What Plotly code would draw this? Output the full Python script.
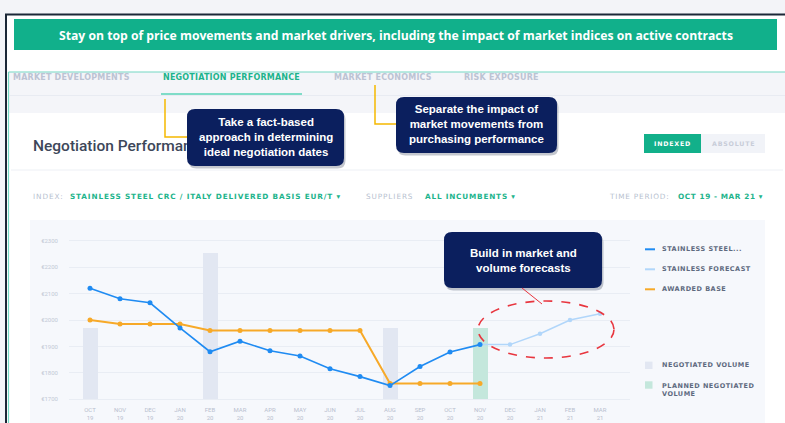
import plotly.graph_objects as go

# ---------------- data ----------------
months = ["OCT 19", "NOV 19", "DEC 19", "JAN 20", "FEB 20", "MAR 20", "APR 20", "MAY 20",
          "JUN 20", "JUL 20", "AUG 20", "SEP 20", "OCT 20", "NOV 20", "DEC 20", "JAN 21",
          "FEB 21", "MAR 21"]
steel_months = months[:14]
steel_values = [2120, 2080, 2065, 1970, 1880, 1920, 1884, 1864, 1816, 1786, 1752, 1824, 1879, 1907]
forecast_months = ["NOV 20", "DEC 20", "JAN 21", "FEB 21", "MAR 21"]
forecast_values = [1907, 1907, 1948, 2000, 2024]
awarded_months = months[:14]
awarded_values = [2000, 1985, 1985, 1985, 1960, 1960, 1960, 1960, 1960, 1960, 1760, 1760, 1760, 1760]
negotiated_months = ["OCT 19", "FEB 20", "AUG 20"]
negotiated_volume = [268, 553, 268]
planned_months = ["NOV 20"]
planned_volume = [268]
y_ticks = [1700, 1800, 1900, 2000, 2100, 2200, 2300]
y_tick_labels = ["€1700", "€1800", "€1900", "€2000", "€2100", "€2200", "€2300"]
legend_labels = ["STAINLESS STEEL...", "STAINLESS FORECAST", "AWARDED BASE",
                 "NEGOTIATED VOLUME", "PLANNED NEGOTIATED<br>VOLUME"]
tabs = ["MARKET DEVELOPMENTS", "NEGOTIATION PERFORMANCE", "MARKET ECONOMICS", "RISK EXPOSURE"]
banner_text = ("Stay on top of price movements and market drivers, including the impact of "
               "market indices on active contracts")
callout_1 = ["Take a fact-based", "approach in determining", "ideal negotiation dates"]
callout_2 = ["Separate the impact of", "market movements from", "purchasing performance"]
callout_3 = ["Build in market and", "volume forecasts"]

# ---------------- layout geometry (pixels) ----------------
W, H = 785, 423
L, R, T, B = 69, 630, 238, 402

def px(x):
    return (x - L) / (R - L)

def py(y):
    return (B - y) / (B - T)

BLUE = "#1f8bf2"
LBLUE = "#b1d6fa"
ORANGE = "#f7a928"
GREEN = "#1db48c"
GRAYTXT = "#b7bfcf"
NAVY = "#0b1f5e"
UI = "DejaVu Sans"

def spaced(text, ls):
    return f'<span style="letter-spacing:{ls}px">{text}</span>'

fig = go.Figure()

fig.add_trace(go.Bar(x=negotiated_months, y=negotiated_volume, base=1700, width=0.5,
                     marker=dict(color="#e2e7f2", line=dict(width=0)), showlegend=False))
fig.add_trace(go.Bar(x=planned_months, y=planned_volume, base=1700, width=0.5,
                     marker=dict(color="#c4e7dc", line=dict(width=0)), showlegend=False))
fig.add_trace(go.Scatter(x=forecast_months, y=forecast_values, mode="lines+markers",
                         line=dict(color=LBLUE, width=1.5), marker=dict(size=4.5, color=LBLUE),
                         showlegend=False))
fig.add_trace(go.Scatter(x=awarded_months, y=awarded_values, mode="lines+markers",
                         line=dict(color=ORANGE, width=2), marker=dict(size=5, color=ORANGE),
                         showlegend=False))
fig.add_trace(go.Scatter(x=steel_months, y=steel_values, mode="lines+markers",
                         line=dict(color=BLUE, width=1.6), marker=dict(size=5, color=BLUE),
                         showlegend=False))

shapes = []
annotations = []

def rect(x0, y0, x1, y1, fill, layer="below"):
    shapes.append(dict(type="rect", xref="paper", yref="paper", x0=px(x0), x1=px(x1),
                       y0=py(y1), y1=py(y0), fillcolor=fill, layer=layer, line=dict(width=0)))

def hline(x0, x1, y, color, width=1, layer="below"):
    shapes.append(dict(type="line", xref="paper", yref="paper", x0=px(x0), x1=px(x1),
                       y0=py(y), y1=py(y), line=dict(color=color, width=width), layer=layer))

def vline(x, y0, y1, color, width=1, layer="below"):
    shapes.append(dict(type="line", xref="paper", yref="paper", x0=px(x), x1=px(x),
                       y0=py(y0), y1=py(y1), line=dict(color=color, width=width), layer=layer))

def rrect(x0, y0, x1, y1, r, fill, layer="above"):
    pts = [("M", x0 + r, y0), ("L", x1 - r, y0), ("Q", x1, y0, x1, y0 + r), ("L", x1, y1 - r),
           ("Q", x1, y1, x1 - r, y1), ("L", x0 + r, y1), ("Q", x0, y1, x0, y1 - r),
           ("L", x0, y0 + r), ("Q", x0, y0, x0 + r, y0)]
    s = ""
    for p in pts:
        coords = p[1:]
        parts = [f"{px(coords[i]):.5f},{py(coords[i+1]):.5f}" for i in range(0, len(coords), 2)]
        s += p[0] + " ".join(parts) + " "
    s += "Z"
    shapes.append(dict(type="path", xref="paper", yref="paper", path=s, fillcolor=fill,
                       line=dict(width=0), layer=layer))

def ann(text, x, y, size, color, xanchor="left", family=UI, weight="bold", align="left"):
    annotations.append(dict(text=text, x=px(x), y=py(y), xref="paper", yref="paper",
                            xanchor=xanchor, yanchor="middle", showarrow=False, align=align,
                            font=dict(size=size, color=color, family=family, weight=weight)))

# page structure
rect(6, 14, W + 2, H + 2, "#ffffff")
hline(5, W + 2, 14.5, "#1b2737", 2)
vline(6, 14, H + 2, "#1b2737", 2)
rect(14, 19, 777, 50, "#11b08b")
rect(8.5, 72, W + 2, 113, "#f4f5f9")
hline(8.5, W + 2, 72, "#74d8c3", 1.2)
vline(8.5, 72, H + 2, "#74d8c3", 1.2)
hline(9, W + 2, 95.5, "#e8ebf2", 1)
hline(161, 302, 94, "#7fdcc8", 2)
rect(11, 113, 783, H + 2, "#ffffff")
hline(11, 783, 170, "#edf0f5", 1)
rect(30, 220, 765, H + 2, "#f6f8fc")
# toggle
rect(644, 134, 701, 153, "#12b08a")
rect(701, 134, 765, 153, "#f1f3f8")

# yellow connectors
shapes.append(dict(type="path", xref="paper", yref="paper",
                   path=f"M{px(165):.5f},{py(99):.5f} L{px(165):.5f},{py(137):.5f} L{px(188):.5f},{py(137):.5f}",
                   line=dict(color="#f5b800", width=1.5), layer="above"))
shapes.append(dict(type="path", xref="paper", yref="paper",
                   path=f"M{px(375):.5f},{py(85):.5f} L{px(375):.5f},{py(124):.5f} L{px(396):.5f},{py(124):.5f}",
                   line=dict(color="#f5b800", width=1.5), layer="above"))

# card title as shape label (so callout box covers it)
shapes.append(dict(type="rect", xref="paper", yref="paper", x0=px(30), x1=px(260), y0=py(154), y1=py(134),
                   line=dict(width=0), fillcolor="rgba(0,0,0,0)", layer="above",
                   label=dict(text="Negotiation Performance", textposition="middle left", padding=0,
                              font=dict(family="Roboto", size=15.5, color="#3d4759", weight=500))))

# callout boxes
for (x0, y0, x1, y1) in [(187, 109, 344, 166), (396, 97, 557, 153), (444, 232, 602, 288)]:
    rrect(x0 + 1.5, y0 + 2.5, x1 + 1.5, y1 + 2.5, 8, "rgba(20,30,60,0.25)")
    rrect(x0, y0, x1, y1, 8, NAVY)

# red dashed ellipse and pointer
shapes.append(dict(type="line", xref="paper", yref="paper", x0=px(522), y0=py(288), x1=px(542), y1=py(304),
                   line=dict(color="#e8363f", width=1), layer="above"))
shapes.append(dict(type="circle", xref="paper", yref="paper", x0=px(478), x1=px(614), y0=py(358), y1=py(301),
                   line=dict(color="#e8363f", width=1.6, dash="dash"), layer="above"))

# texts
ann(banner_text, 395.5, 35, 12.2, "#ffffff", "center", "Open Sans", "bold")
tab_x = [11, 161, 332, 462]
for i, t in enumerate(tabs):
    ann(spaced(t, 0.2), tab_x[i], 77.5, 8, GREEN if i == 1 else "#bcc3d3")

for lines, cx, cy in [(callout_1, 265.5, 137.3), (callout_2, 476.5, 124.3), (callout_3, 523, 260)]:
    ann("<br>".join(lines), cx, cy, 11.5, "#ffffff", "center", "Liberation Sans", "bold", "center")

ROW = 196.5
ann(spaced("INDEX:", 0.9), 31, ROW, 7.3, GRAYTXT, "left", UI, "normal")
ann(spaced("STAINLESS STEEL CRC / ITALY DELIVERED BASIS EUR/T ▾", 0.85), 68, ROW, 7.3, GREEN)
ann(spaced("SUPPLIERS", 0.9), 364, ROW, 7.3, GRAYTXT, "left", UI, "normal")
ann(spaced("ALL INCUMBENTS ▾", 0.8), 423, ROW, 7.3, GREEN)
ann(spaced("TIME PERIOD:", 0.8), 607, ROW, 7.3, GRAYTXT, "left", UI, "normal")
ann(spaced("OCT 19 - MAR 21 ▾", 0.6), 676, ROW, 7.3, GREEN)
ann(spaced("INDEXED", 0.8), 672.5, 143.5, 6.3, "#ffffff", "center")
ann(spaced("ABSOLUTE", 0.8), 733, 143.5, 6.3, "#c8cdd9", "center")

# legend
leg_y = [249.3, 269.3, 289.3, 365.3, 385]
leg_col = [BLUE, LBLUE, ORANGE, "#e2e7f2", "#c4e7dc"]
for i, lab in enumerate(legend_labels):
    if i < 3:
        hline(645, 655, leg_y[i], leg_col[i], 2, "above")
    else:
        rect(645, leg_y[i] - 3.7, 652.5, leg_y[i] + 3.7, leg_col[i], "above")
    yy = leg_y[i] + (5 if "<br>" in lab else 0)
    txt = "<br>".join(spaced(p, 0.5) for p in lab.split("<br>"))
    ann(txt, 660, yy, 6.5, "#5e6a7f", "left", UI, "bold", "left")

fig.update_layout(
    width=W, height=H,
    margin=dict(l=L, r=W - R, t=T, b=H - B, pad=0, autoexpand=False),
    paper_bgcolor="#f3f4f8", plot_bgcolor="rgba(0,0,0,0)",
    shapes=shapes, annotations=annotations, showlegend=False, bargap=0,
    xaxis=dict(type="category", categoryorder="array", categoryarray=months, range=[-0.7, 18.0],
               tickvals=months, ticktext=[m.replace(" ", "<br>") for m in months], automargin=False,
               showgrid=False, zeroline=False, showline=False, ticks="",
               tickfont=dict(family="Roboto", size=6, color="#b9c0cf"), ticklabelstandoff=3),
    yaxis=dict(range=[1690, 2310], tickvals=y_ticks, ticktext=y_tick_labels, automargin=False,
               showgrid=True, gridcolor="#e9edf4", gridwidth=1, zeroline=False, showline=False,
               ticks="", tickfont=dict(family="Roboto", size=6, color="#c3c9d6"),
               ticklabelstandoff=10),
)

fig.write_html("out.html", config={"displayModeBar": False},
               post_script="document.body.style.margin='0';document.body.style.background='#f3f4f8';")
